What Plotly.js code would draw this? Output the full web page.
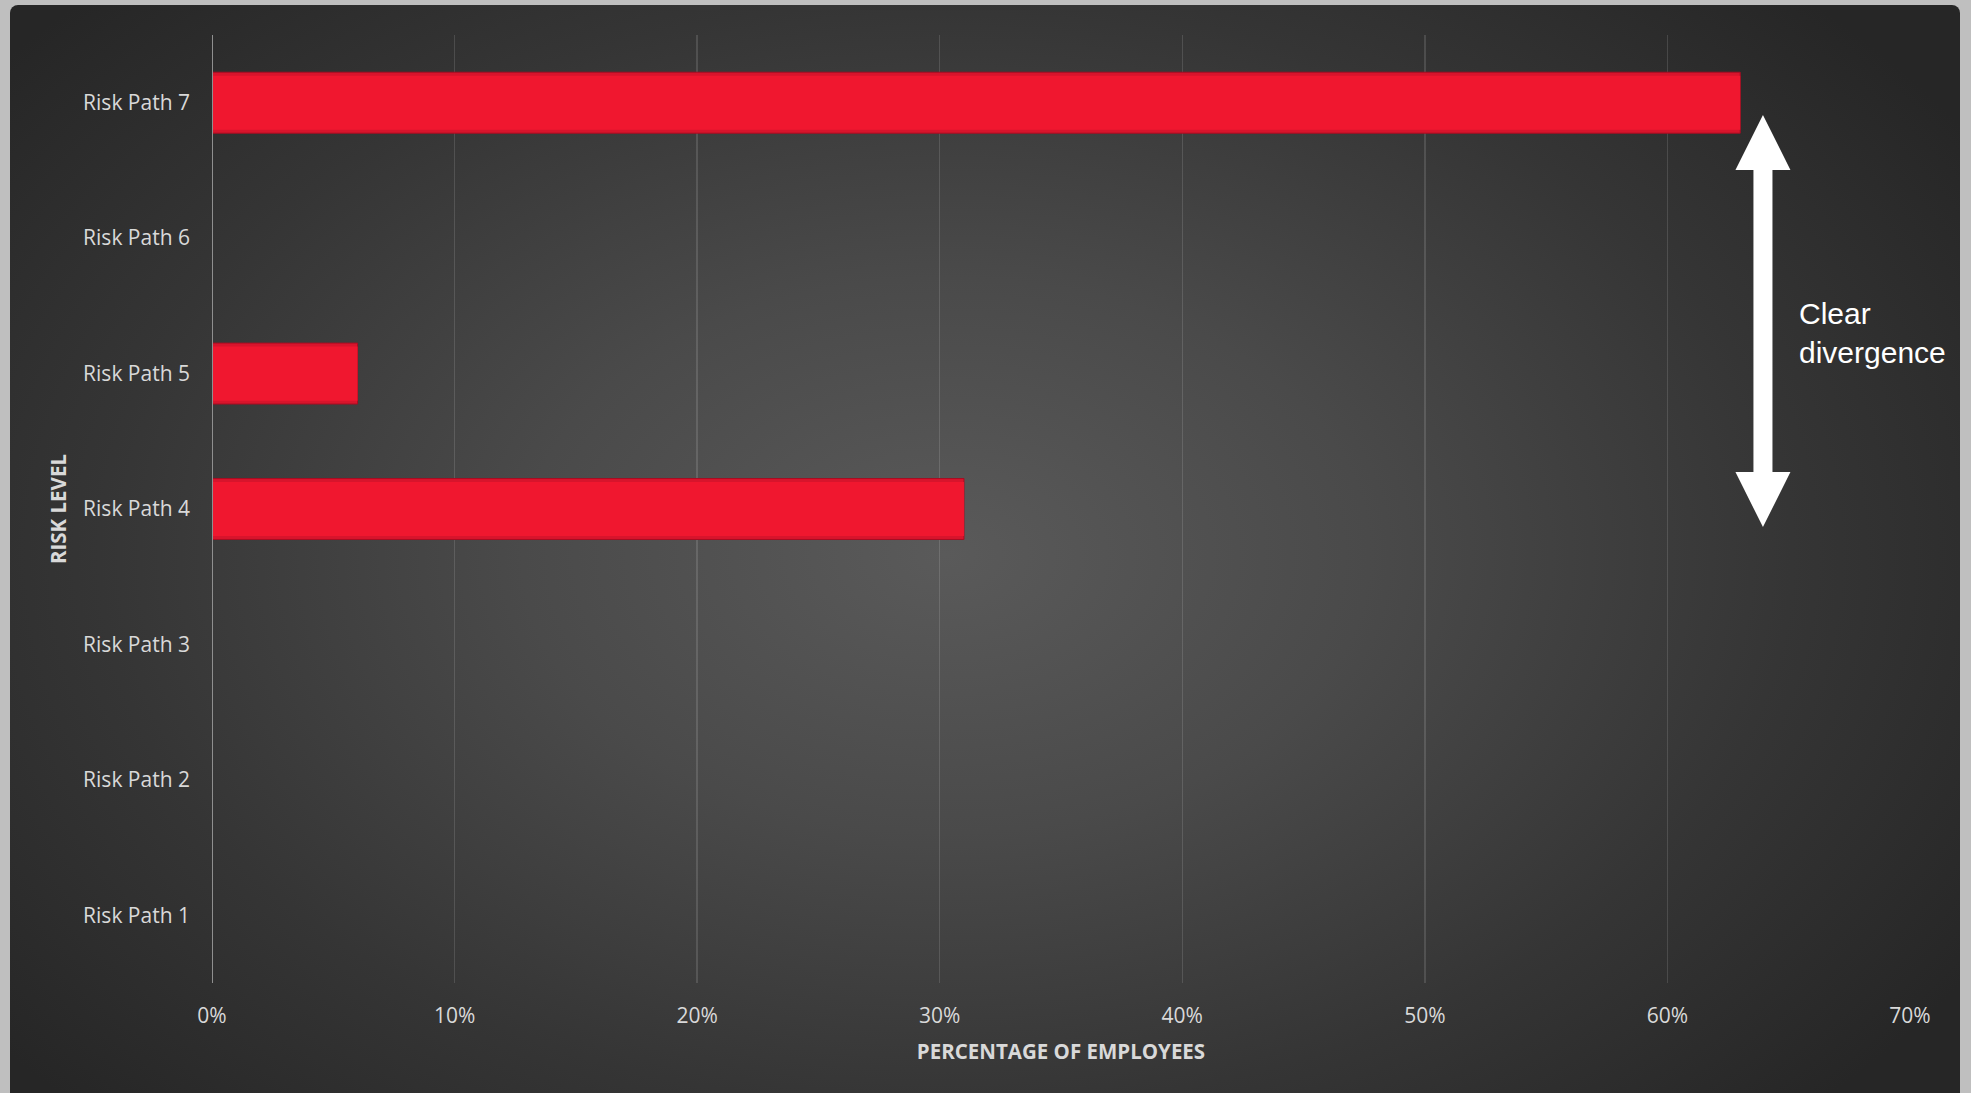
<!DOCTYPE html>
<html>
<head>
<meta charset="utf-8">
<script src="https://cdn.plot.ly/plotly-3.0.1.min.js"></script>
<style>
  html, body { margin:0; padding:0; background:#bfbfbf; width:1971px; height:1093px; overflow:hidden; }
  #panel { position:absolute; left:10px; top:5px; width:1950px; height:1100px; border-radius:8px;
    background: radial-gradient(ellipse 62% 72% at 48% 50%, #5a5a5a 0%, #4a4a4a 35%, #353535 70%, #262626 100%); }
  #chart { position:absolute; left:0; top:0; width:1971px; height:1093px; }
</style>
</head>
<body>
<div id="panel"></div>
<div id="chart"></div>
<script>
const categories = ["Risk Path 1","Risk Path 2","Risk Path 3","Risk Path 4","Risk Path 5","Risk Path 6","Risk Path 7"];
const values = [0, 0, 0, 0.31, 0.06, 0, 0.63];
const tickVals = [0, 0.1, 0.2, 0.3, 0.4, 0.5, 0.6, 0.7];
const tickLabels = ["0%","10%","20%","30%","40%","50%","60%","70%"];
const annotationText = "Clear<br>divergence";

const font = "'Open Sans', 'Noto Sans', sans-serif";

const data = [{
  type: 'bar',
  orientation: 'h',
  y: categories,
  x: values,
  width: 0.45,
  marker: { color: '#d8142c', line: { color: '#a80d22', width: 1 } },
  hoverinfo: 'skip'
}, {
  type: 'bar',
  orientation: 'h',
  y: categories,
  x: values,
  width: 0.40,
  marker: { color: '#f0172f', line: { width: 0 } },
  hoverinfo: 'skip'
}];

// double-headed arrow (paper coordinates)
const cx = 0.9134, sw = 0.0056, hw = 0.0162;
const yTop = 0.9156, yTopBase = 0.8576, yBotBase = 0.539, yBot = 0.481;
const arrowPath = `M ${cx} ${yTop} L ${cx+hw} ${yTopBase} L ${cx+sw} ${yTopBase} L ${cx+sw} ${yBotBase} L ${cx+hw} ${yBotBase} L ${cx} ${yBot} L ${cx-hw} ${yBotBase} L ${cx-sw} ${yBotBase} L ${cx-sw} ${yTopBase} L ${cx-hw} ${yTopBase} Z`;

const layout = {
  width: 1971, height: 1093,
  paper_bgcolor: 'rgba(0,0,0,0)',
  plot_bgcolor: 'rgba(0,0,0,0)',
  margin: { l: 212, r: 61, t: 35, b: 110, pad: 0 },
  showlegend: false,
  barmode: 'overlay',
  font: { family: font, color: '#d9d9d9', size: 21 },
  xaxis: {
    range: [0, 0.7],
    tickvals: tickVals,
    ticktext: tickLabels,
    showgrid: true,
    gridcolor: 'rgba(255,255,255,0.13)',
    gridwidth: 1.5,
    zeroline: false,
    showline: false,
    ticks: '',
    ticklen: 0,
    ticklabelstandoff: 18,
    tickfont: { size: 21, color: '#d9d9d9' },
    title: { text: 'PERCENTAGE OF EMPLOYEES', font: { size: 20.5, color: '#d9d9d9', weight: 'bold' }, standoff: 16 },
    fixedrange: true
  },
  yaxis: {
    type: 'category',
    categoryorder: 'array',
    categoryarray: categories,
    showgrid: false,
    zeroline: false,
    showline: false,
    ticks: '',
    ticklabelstandoff: 21,
    tickfont: { size: 21, color: '#d9d9d9' },
    title: { text: 'RISK LEVEL', font: { size: 20.5, color: '#d9d9d9', weight: 'bold' }, standoff: 10 },
    fixedrange: true
  },
  shapes: [
    { type: 'line', xref: 'x', yref: 'paper', x0: 0, x1: 0, y0: 0, y1: 1, line: { color: '#8f8f8f', width: 2 }, layer: 'above' },
    { type: 'path', xref: 'paper', yref: 'paper', path: arrowPath, fillcolor: '#ffffff', line: { width: 0 } }
  ],
  annotations: [{
    xref: 'paper', yref: 'paper', x: 0.9334, y: 0.6857,
    xanchor: 'left', yanchor: 'middle', align: 'left', showarrow: false,
    text: annotationText,
    font: { family: "'Liberation Sans', Arial, sans-serif", size: 30, color: '#ffffff' }
  }]
};

Plotly.newPlot('chart', data, layout, { staticPlot: true, displayModeBar: false });
</script>
</body>
</html>
